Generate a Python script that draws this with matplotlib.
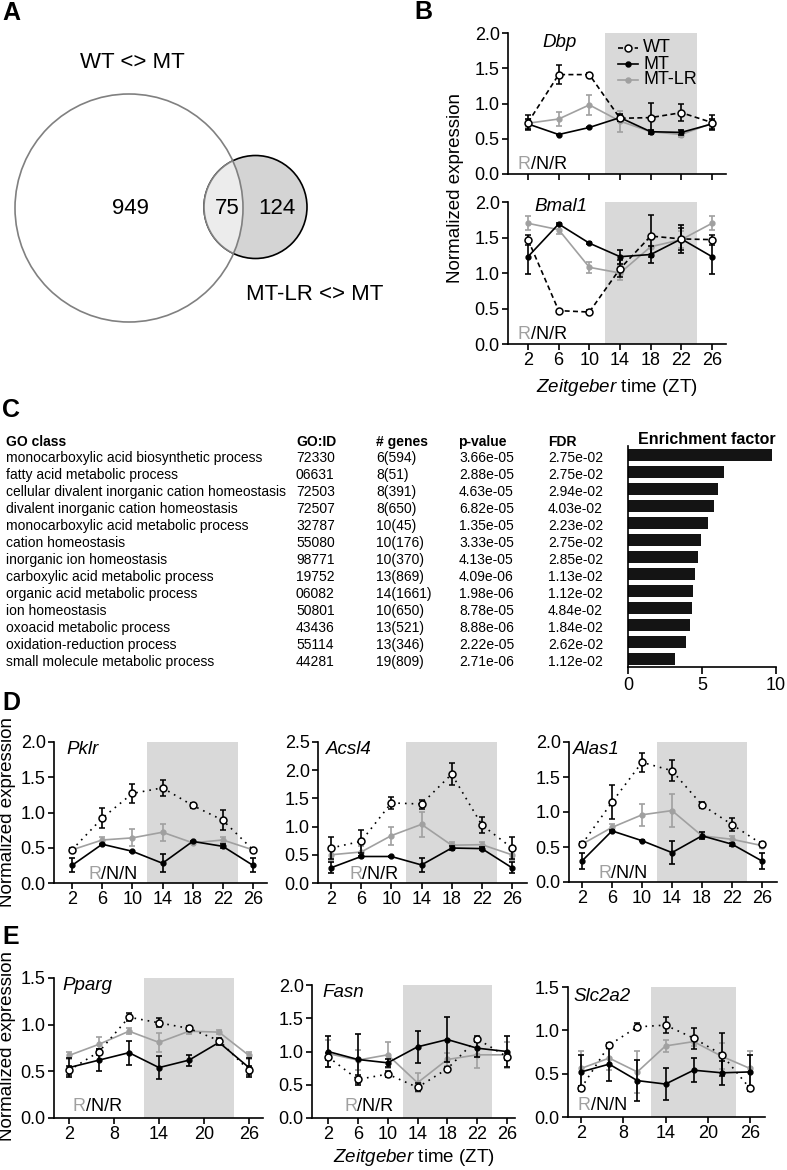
import matplotlib
matplotlib.use('Agg')
import matplotlib.pyplot as plt
from matplotlib.patches import Circle

plt.rcParams['font.family'] = ['Liberation Sans', 'DejaVu Sans']
plt.rcParams['mathtext.fontset'] = 'custom'
plt.rcParams['mathtext.it'] = 'Liberation Sans:italic'
plt.rcParams['mathtext.rm'] = 'Liberation Sans'

# ---- data ----
venn_counts = [949, 75, 124]   # WT<>MT only, shared, MT-LR<>MT only
venn_names = ['WT <> MT', 'MT-LR <> MT']

go_class = ['monocarboxylic acid biosynthetic process', 'fatty acid metabolic process',
            'cellular divalent inorganic cation homeostasis', 'divalent inorganic cation homeostasis',
            'monocarboxylic acid metabolic process', 'cation homeostasis', 'inorganic ion homeostasis',
            'carboxylic acid metabolic process', 'organic acid metabolic process', 'ion homeostasis',
            'oxoacid metabolic process', 'oxidation-reduction process', 'small molecule metabolic process']
go_id = ['72330', '06631', '72503', '72507', '32787', '55080', '98771', '19752', '06082', '50801',
         '43436', '55114', '44281']
n_genes = ['6(594)', '8(51)', '8(391)', '8(650)', '10(45)', '10(176)', '10(370)', '13(869)',
           '14(1661)', '10(650)', '13(521)', '13(346)', '19(809)']
p_value = ['3.66e-05', '2.88e-05', '4.63e-05', '6.82e-05', '1.35e-05', '3.33e-05', '4.13e-05',
           '4.09e-06', '1.98e-06', '8.78e-05', '8.88e-06', '2.22e-05', '2.71e-06']
fdr = ['2.75e-02', '2.75e-02', '2.94e-02', '4.03e-02', '2.23e-02', '2.75e-02', '2.85e-02',
       '1.13e-02', '1.12e-02', '4.84e-02', '1.84e-02', '2.62e-02', '1.12e-02']
enrichment = [9.7, 6.5, 6.1, 5.8, 5.4, 4.9, 4.7, 4.5, 4.4, 4.3, 4.2, 3.9, 3.2]

zt = [2, 6, 10, 14, 18, 22, 26]

dbp_wt = [0.73, 1.41, 1.41, 0.79, 0.80, 0.87, 0.73]
dbp_wt_err = [0.10, 0.14, 0.02, 0.04, 0.21, 0.12, 0.10]
dbp_mt = [0.71, 0.56, 0.66, 0.80, 0.60, 0.59, 0.71]
dbp_mt_err = [0.07, 0.01, 0.01, 0.05, 0.03, 0.03, 0.07]
dbp_lr = [0.72, 0.78, 0.98, 0.75, 0.60, 0.56, 0.72]
dbp_lr_err = [0.05, 0.10, 0.14, 0.15, 0.03, 0.04, 0.05]

bmal1_wt = [1.47, 0.47, 0.45, 1.06, 1.52, 1.48, 1.47]
bmal1_wt_err = [0.07, 0.01, 0.03, 0.12, 0.30, 0.15, 0.07]
bmal1_mt = [1.23, 1.69, 1.42, 1.23, 1.26, 1.48, 1.23]
bmal1_mt_err = [0.24, 0.01, 0.01, 0.10, 0.12, 0.20, 0.24]
bmal1_lr = [1.70, 1.61, 1.08, 1.00, 1.37, 1.47, 1.70]
bmal1_lr_err = [0.10, 0.06, 0.08, 0.10, 0.10, 0.12, 0.10]

pklr_wt = [0.47, 0.92, 1.27, 1.35, 1.10, 0.89, 0.47]
pklr_wt_err = [0.02, 0.14, 0.14, 0.11, 0.03, 0.14, 0.02]
pklr_mt = [0.25, 0.55, 0.45, 0.28, 0.59, 0.52, 0.25]
pklr_mt_err = [0.10, 0.01, 0.01, 0.13, 0.01, 0.03, 0.10]
pklr_lr = [0.47, 0.61, 0.64, 0.72, 0.57, 0.61, 0.47]
pklr_lr_err = [0.02, 0.04, 0.12, 0.12, 0.02, 0.04, 0.02]

acsl4_wt = [0.62, 0.74, 1.42, 1.40, 1.93, 1.03, 0.62]
acsl4_wt_err = [0.20, 0.20, 0.10, 0.08, 0.19, 0.14, 0.20]
acsl4_mt = [0.27, 0.47, 0.47, 0.32, 0.62, 0.61, 0.27]
acsl4_mt_err = [0.10, 0.01, 0.01, 0.13, 0.03, 0.03, 0.10]
acsl4_lr = [0.50, 0.55, 0.84, 1.04, 0.67, 0.68, 0.50]
acsl4_lr_err = [0.10, 0.10, 0.16, 0.22, 0.05, 0.05, 0.10]

alas1_wt = [0.54, 1.14, 1.71, 1.59, 1.10, 0.82, 0.54]
alas1_wt_err = [0.03, 0.24, 0.14, 0.15, 0.04, 0.09, 0.03]
alas1_mt = [0.30, 0.73, 0.59, 0.42, 0.66, 0.54, 0.30]
alas1_mt_err = [0.12, 0.02, 0.01, 0.16, 0.05, 0.02, 0.12]
alas1_lr = [0.54, 0.78, 0.96, 1.02, 0.66, 0.61, 0.52]
alas1_lr_err = [0.03, 0.05, 0.16, 0.24, 0.03, 0.05, 0.03]

pparg_wt = [0.51, 0.71, 1.08, 1.02, 0.96, 0.83, 0.51]
pparg_wt_err = [0.05, 0.03, 0.04, 0.05, 0.03, 0.03, 0.05]
pparg_mt = [0.54, 0.62, 0.70, 0.54, 0.62, 0.81, 0.54]
pparg_mt_err = [0.10, 0.12, 0.13, 0.12, 0.06, 0.03, 0.10]
pparg_lr = [0.67, 0.79, 0.93, 0.81, 0.93, 0.92, 0.67]
pparg_lr_err = [0.04, 0.08, 0.03, 0.10, 0.03, 0.02, 0.04]

fasn_wt = [0.92, 0.58, 0.66, 0.46, 0.74, 1.19, 0.92]
fasn_wt_err = [0.05, 0.06, 0.05, 0.06, 0.02, 0.05, 0.05]
fasn_mt = [1.00, 0.88, 0.83, 1.07, 1.18, 1.05, 1.00]
fasn_mt_err = [0.23, 0.38, 0.06, 0.24, 0.34, 0.14, 0.23]
fasn_lr = [0.97, 0.87, 0.95, 0.53, 0.88, 0.95, 0.95]
fasn_lr_err = [0.20, 0.15, 0.20, 0.14, 0.10, 0.20, 0.20]

slc2a2_wt = [0.33, 0.83, 1.04, 1.06, 0.91, 0.72, 0.33]
slc2a2_wt_err = [0.03, 0.02, 0.04, 0.09, 0.12, 0.25, 0.03]
slc2a2_mt = [0.52, 0.61, 0.42, 0.38, 0.54, 0.51, 0.52]
slc2a2_mt_err = [0.19, 0.20, 0.24, 0.18, 0.14, 0.14, 0.19]
slc2a2_lr = [0.56, 0.68, 0.52, 0.82, 0.87, 0.70, 0.56]
slc2a2_lr_err = [0.20, 0.14, 0.24, 0.07, 0.05, 0.15, 0.20]

GRAY = '#a0a0a0'
SHADE = '#d9d9d9'
W, H = 787, 1170

fig = plt.figure(figsize=(W / 100, H / 100), dpi=100)


def add_ax(x0, y0, x1, y1):
    return fig.add_axes([x0 / W, 1 - y1 / H, (x1 - x0) / W, (y1 - y0) / H])


def ftext(x, y, s, **kw):
    fig.text(x / W, 1 - y / H, s, **kw)


# ---- A: venn + C table text on a pixel overlay ----
ax0 = fig.add_axes([0, 0, 1, 1])
ax0.set_xlim(0, W)
ax0.set_ylim(H, 0)
ax0.axis('off')

big = Circle((129, 208), 114, facecolor='none', edgecolor='#808080', lw=1.2, zorder=3)
ax0.add_patch(big)
small = Circle((255.5, 207), 51.5, facecolor='#d4d4d4', edgecolor='black', lw=1.2, zorder=1)
ax0.add_patch(small)
inter = Circle((255.5, 207), 51.5, facecolor='#ececec', edgecolor='#808080', lw=1.2, zorder=2)
ax0.add_patch(inter)
inter.set_clip_path(big)
ax0.text(130, 209, str(venn_counts[0]), ha='center', va='center', fontsize=16)
ax0.text(227, 209, str(venn_counts[1]), ha='center', va='center', fontsize=16)
ax0.text(277, 209, str(venn_counts[2]), ha='center', va='center', fontsize=16)
ax0.text(132, 62, venn_names[0], ha='center', va='center', fontsize=16)
ax0.text(315, 295, venn_names[1], ha='center', va='center', fontsize=16)

# table
TF = 10
hy = 442
ax0.text(6, hy, 'GO class', fontsize=TF, fontweight='bold', va='center')
ax0.text(296, hy, 'GO:ID', fontsize=TF, fontweight='bold', va='center')
ax0.text(376, hy, '# genes', fontsize=TF, fontweight='bold', va='center')
ax0.text(458, hy, 'p-value', fontsize=TF, fontweight='bold', va='center')
ax0.text(548, hy, 'FDR', fontsize=TF, fontweight='bold', va='center')
ax0.text(707, 440, 'Enrichment factor', fontsize=11.5, fontweight='bold', va='center', ha='center')
for i in range(len(go_class)):
    y = 458 + 17 * i
    ax0.text(6, y, go_class[i], fontsize=TF, va='center')
    ax0.text(296, y, go_id[i], fontsize=TF, va='center')
    ax0.text(376, y, n_genes[i], fontsize=TF, va='center')
    ax0.text(459, y, p_value[i], fontsize=TF, va='center')
    ax0.text(548, y, fdr[i], fontsize=TF, va='center')

# bar chart
axb = add_ax(628, 446, 776, 667)
axb.barh(range(len(enrichment)), enrichment, height=0.65, color='#141414')
axb.set_ylim(12.47, -0.53)
axb.set_xlim(0, 10)
axb.set_xticks([0, 5, 10])
axb.set_yticks([])
for s in ['top', 'right']:
    axb.spines[s].set_visible(False)
for s in ['left', 'bottom']:
    axb.spines[s].set_linewidth(1.2)
axb.tick_params(axis='x', direction='out', length=5, width=1.2, labelsize=13, pad=2)


# ---- time course panels ----
def make_ax(left, top, right, bottom, x2, x26, ytop, yticks, xticks):
    ax = add_ax(left, top, right, bottom)
    ppz = (x26 - x2) / 24
    ax.set_xlim(2 - (x2 - left) / ppz, 26 + (right - x26) / ppz)
    ax.set_ylim(0, ytop)
    ax.axvspan(12, 24, color=SHADE, lw=0, zorder=0)
    ax.set_yticks(yticks)
    ax.set_yticklabels(['%.1f' % t for t in yticks])
    ax.set_xticks(xticks)
    for s in ['top', 'right']:
        ax.spines[s].set_visible(False)
    for s in ['left', 'bottom']:
        ax.spines[s].set_linewidth(1.2)
    ax.tick_params(direction='out', length=4, width=1.2, labelsize=13, pad=2)
    return ax


def draw(ax, wt, wte, mt, mte, lr, lre, wt_ls):
    kw = dict(capsize=2.5, elinewidth=1.2, capthick=1.2, lw=1.2, clip_on=False)
    ax.errorbar(zt, lr, yerr=lre, color=GRAY, marker='o', ms=3.5, zorder=3, **kw)
    ax.errorbar(zt, mt, yerr=mte, color='black', marker='o', ms=3.5, zorder=4, **kw)
    ax.errorbar(zt, wt, yerr=wte, color='black', ls=wt_ls, marker='o', ms=5,
                mfc='white', mec='black', mew=1.1, zorder=5, **kw)


def gene(ax, name, x, y):
    ax.text(x, y, name, transform=ax.transAxes, style='italic', fontsize=13.5, va='center')


def rnr(ax, last, x, y):
    t = ax.text(x, y, 'R', transform=ax.transAxes, color=GRAY, fontsize=13, va='bottom')
    ax.annotate('/N/' + last, xy=(1, 0), xycoords=t, color='black', fontsize=13, va='bottom')


DASH = (0, (3, 2))
DOT = (0, (1, 3))
zt_ticks = [2, 6, 10, 14, 18, 22, 26]
zt_ticks6 = [2, 8, 14, 20, 26]

# B
axB1 = make_ax(508, 33, 726, 174, 528, 712, 2.0, [0, 0.5, 1.0, 1.5, 2.0], zt_ticks)
axB1.set_xticklabels([])
draw(axB1, dbp_wt, dbp_wt_err, dbp_mt, dbp_mt_err, dbp_lr, dbp_lr_err, DASH)
gene(axB1, 'Dbp', 0.16, 0.93)
rnr(axB1, 'R', 0.045, 0.01)
# legend
legend_rows = [('WT', 'black', DASH, 'white', 0.894), ('MT', 'black', '-', 'black', 0.78),
               ('MT-LR', GRAY, '-', GRAY, 0.667)]
for lab, c, ls, fc, ly in legend_rows:
    axB1.plot([0.505, 0.596], [ly, ly], transform=axB1.transAxes, color=c, ls=ls, lw=1.2)
    axB1.plot([0.55], [ly], transform=axB1.transAxes, marker='o', ms=5 if fc == 'white' else 3.5,
              mfc=fc, mec=c, color=c, mew=1.1)
    axB1.text(0.62, ly, lab, transform=axB1.transAxes, fontsize=13, va='center')

axB2 = make_ax(508, 202, 726, 344, 528, 712, 2.0, [0, 0.5, 1.0, 1.5, 2.0], zt_ticks)
draw(axB2, bmal1_wt, bmal1_wt_err, bmal1_mt, bmal1_mt_err, bmal1_lr, bmal1_lr_err, DASH)
gene(axB2, 'Bmal1', 0.12, 0.97)
rnr(axB2, 'R', 0.045, 0.01)

# D
axD1 = make_ax(54, 742, 267, 883, 72, 253, 2.0, [0, 0.5, 1.0, 1.5, 2.0], zt_ticks)
draw(axD1, pklr_wt, pklr_wt_err, pklr_mt, pklr_mt_err, pklr_lr, pklr_lr_err, DOT)
gene(axD1, 'Pklr', 0.06, 0.95)
rnr(axD1, 'N', 0.16, 0.0)

axD2 = make_ax(318, 742, 527, 883, 331, 512, 2.5, [0, 0.5, 1.0, 1.5, 2.0, 2.5], zt_ticks)
draw(axD2, acsl4_wt, acsl4_wt_err, acsl4_mt, acsl4_mt_err, acsl4_lr, acsl4_lr_err, DOT)
gene(axD2, 'Acsl4', 0.04, 0.95)
rnr(axD2, 'R', 0.15, 0.0)

axD3 = make_ax(569, 742, 777, 882, 582, 762, 2.0, [0, 0.5, 1.0, 1.5, 2.0], zt_ticks)
draw(axD3, alas1_wt, alas1_wt_err, alas1_mt, alas1_mt_err, alas1_lr, alas1_lr_err, DOT)
gene(axD3, 'Alas1', 0.02, 0.95)
rnr(axD3, 'N', 0.14, 0.0)

# E
axE1 = make_ax(54, 978, 263, 1118, 69, 249, 1.5, [0, 0.5, 1.0, 1.5], zt_ticks6)
draw(axE1, pparg_wt, pparg_wt_err, pparg_mt, pparg_mt_err, pparg_lr, pparg_lr_err, DOT)
gene(axE1, 'Pparg', 0.04, 0.95)
rnr(axE1, 'R', 0.09, 0.02)

axE2 = make_ax(312, 985, 515, 1118, 328, 507, 2.0, [0, 0.5, 1.0, 1.5, 2.0], zt_ticks)
draw(axE2, fasn_wt, fasn_wt_err, fasn_mt, fasn_mt_err, fasn_lr, fasn_lr_err, DOT)
gene(axE2, 'Fasn', 0.05, 0.94)
rnr(axE2, 'R', 0.16, 0.02)

axE3 = make_ax(568, 987, 765, 1117, 581, 750, 1.5, [0, 0.5, 1.0, 1.5], zt_ticks6)
draw(axE3, slc2a2_wt, slc2a2_wt_err, slc2a2_mt, slc2a2_mt_err, slc2a2_lr, slc2a2_lr_err, DOT)
gene(axE3, 'Slc2a2', 0.03, 0.93)
rnr(axE3, 'N', 0.05, 0.02)

# axis labels
ftext(455, 188, 'Normalized expression', rotation=90, ha='center', va='center', fontsize=13.5)
ftext(8, 812, 'Normalized expression', rotation=90, ha='center', va='center', fontsize=13.5)
ftext(8, 1046, 'Normalized expression', rotation=90, ha='center', va='center', fontsize=13.5)
ftext(617, 388, r'$\it{Zeitgeber}$ time (ZT)', ha='center', va='center', fontsize=13.5)
ftext(414, 1157, r'$\it{Zeitgeber}$ time (ZT)', ha='center', va='center', fontsize=13.5)

# panel letters
for letter, x, y in [('A', 2, 13), ('B', 414, 12), ('C', 2, 410), ('D', 2, 703), ('E', 2, 937)]:
    ftext(x, y, letter, fontsize=18, fontweight='bold', va='center')

fig.savefig('out.png', dpi=100)
